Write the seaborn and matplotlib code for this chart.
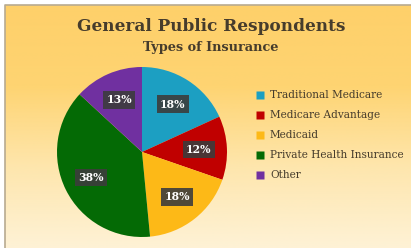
import matplotlib.pyplot as plt
import numpy as np
import seaborn as sns
from matplotlib.colors import LinearSegmentedColormap
from matplotlib.lines import Line2D

categories = ["Traditional Medicare", "Medicare Advantage", "Medicaid",
              "Private Health Insurance", "Other"]
shares = [18, 12, 18, 38, 13]
colors = ["#1c9fc2", "#c00000", "#fdb917", "#046a05", "#7030a0"]

sns.set_theme(style="white")
plt.rcParams['font.family'] = ['DejaVu Serif']
text_color = "#463c2c"

fig = plt.figure(figsize=(4.11, 2.48), dpi=100)
fig.patch.set_facecolor("white")

# gradient background panel
bg = fig.add_axes([5 / 411, 0, 1, 243 / 248])
grad = LinearSegmentedColormap.from_list("bg", ["#fef2d6", "#fee6ad", "#fed472", "#fed06a"])
bg.imshow(np.linspace(0, 1, 256).reshape(-1, 1), aspect="auto", cmap=grad,
          origin="lower", extent=[0, 1, 0, 1])
bg.set_xlim(0, 1)
bg.set_ylim(0, 1)
bg.axis("off")
bg.plot([0, 0, 1], [0, 1, 1], color="#b8aa90", lw=1.2, clip_on=False)

fig.text(0.513, 0.893, "General Public Respondents", ha="center", va="center",
         fontsize=12.2, fontweight="bold", color=text_color)
fig.text(0.513, 0.807, "Types of Insurance", ha="center", va="center",
         fontsize=9.3, fontweight="bold", color=text_color)

ax = fig.add_axes([57 / 411, 11 / 248, 170 / 411, 170 / 248])
wedges, texts, autotexts = ax.pie(shares, colors=colors, startangle=90, counterclock=False,
                                  autopct=lambda p: f"{p:.0f}%", pctdistance=0.67,
                                  wedgeprops=dict(edgecolor="none"))
for t in autotexts:
    t.set_color("white")
    t.set_fontsize(7.8)
    t.set_fontweight("bold")
    t.set_bbox(dict(facecolor="#3c3c3c", edgecolor="none", boxstyle="square,pad=0.3", alpha=0.9))
ax.set_xlim(-1, 1)
ax.set_ylim(-1, 1)
ax.set_aspect("equal")

handles = [Line2D([], [], marker="s", linestyle="none", markersize=5.5,
                  markerfacecolor=c, markeredgecolor="none") for c in colors]
leg = fig.legend(handles, categories, loc="upper left", bbox_to_anchor=(253 / 411, 1 - 86 / 248),
                 frameon=False, fontsize=7.6, labelspacing=0.95, handlelength=0.6,
                 handletextpad=0.6, borderaxespad=0)
for t in leg.get_texts():
    t.set_color(text_color)

fig.savefig("out.png", dpi=100)
